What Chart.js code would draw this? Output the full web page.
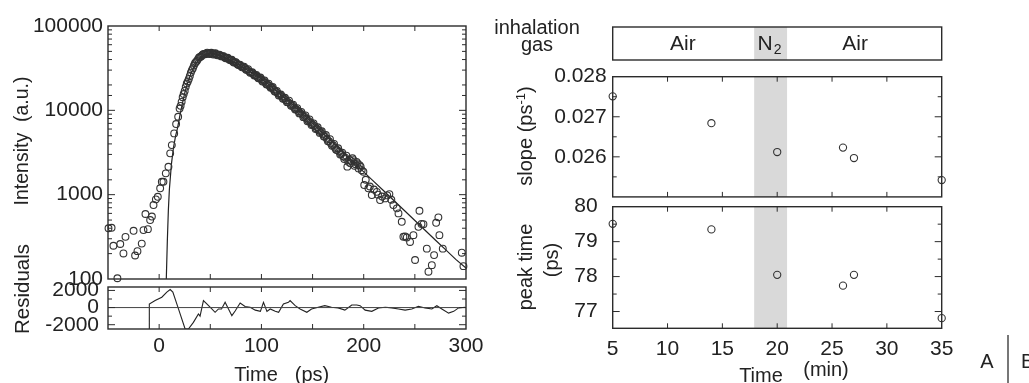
<!DOCTYPE html>
<html>
<head>
<meta charset="utf-8">
<script src="https://cdn.jsdelivr.net/npm/chart.js@4.4.1/dist/chart.umd.min.js"></script>
<style>
body{margin:0;background:#fff;width:1029px;height:383px;overflow:hidden;position:relative;font-family:"Liberation Sans",Arial,sans-serif;color:#222}
canvas{position:absolute}
.lbl{position:absolute;font-size:20px;white-space:nowrap;line-height:1}
.rot{transform:translate(-50%,-50%) rotate(-90deg)}
.c{transform:translate(-50%,-50%)}
sup{font-size:13px;vertical-align:7px;line-height:0}
</style>
</head>
<body>
<canvas id="intChart" width="480" height="292" style="left:0;top:0"></canvas>
<canvas id="resChart" width="490" height="108" style="left:0;top:275px"></canvas>
<canvas id="gasChart" width="480" height="62" style="left:480px;top:0"></canvas>
<canvas id="slopeChart" width="480" height="140" style="left:480px;top:62px"></canvas>
<canvas id="peakChart" width="480" height="193" style="left:480px;top:190px"></canvas>

<div class="lbl rot" style="left:22px;top:141px;font-size:19.5px">Intensity &nbsp;(a.u.)</div>
<div class="lbl rot" style="left:22px;top:289px;font-size:20.5px">Residuals</div>
<div class="lbl c" style="left:256px;top:374px">Time</div>
<div class="lbl c" style="left:312px;top:374px">(ps)</div>

<div class="lbl c" style="left:537px;top:27px">inhalation</div>
<div class="lbl c" style="left:537px;top:44px">gas</div>
<div class="lbl rot" style="left:525px;top:136px">slope (ps<sup>-1</sup>)</div>
<div class="lbl rot" style="left:525px;top:267px">peak time</div>
<div class="lbl rot" style="left:551px;top:260px">(ps)</div>
<div class="lbl c" style="left:761px;top:375px">Time</div>
<div class="lbl c" style="left:826px;top:369px">(min)</div>

<div class="lbl c" style="left:987px;top:361px">A</div>
<div style="position:absolute;left:1007px;top:335px;width:1.5px;height:48px;background:#777"></div>
<div class="lbl" style="left:1021px;top:351px">B</div>

<script>
// ---- panel A : time-resolved intensity ----
var decayTime = [-49.5,-46.5,-44.7,-40.8,-38,-34.9,-32.9,-25,-23.5,-21.2,-17,-15.3,-13.4,-11,-8.8,-7.1,-5.5,-3.2,-1.3,1,2.6,4.2,6.5,9.1,10.8,12.4,14.7,16.6,18.6,
    20,22,24,26,28,30,32,34,36,38,40,42,44,46,48,50,52,54,56,58,60,62,64,66,68,70,72,74,76,78,80,82,84,86,88,90,92,94,96,98,
    100,102,104,106,108,110,112,114,116,118,120,122,124,126,128,130,132,134,136,138,140,142,144,146,148,150,152,154,156,158,
    160,162,164,166,168,170,172,174,176,178,180,182,184,186,188,190,192,194,196,198,
    199.7,200.5,202,204.6,206,207.9,210,212.8,214,216,218,220.9,223,225.1,227,229,232.4,234,237.2,238.8,240.5,242.1,245.3,248.6,
    250.2,253.5,254.5,256.5,258.4,261.7,263.3,266.6,268.8,270.8,273,274,277.3,295.9,297.5];
var decayCounts = [400,405,248,102,260,201,316,373,190,214,263,380,590,390,500,550,753,880,944,1190,1420,1420,1790,2140,3090,3870,5330,6880,8390,
    10500,12600,15600,19000,22000,25500,30000,34000,37500,40500,43000,45000,46500,47200,47500,47600,47000,46800,46000,45500,
    44500,43800,42500,41800,40500,39500,38000,37200,35800,34500,33600,32800,31500,30200,29000,28000,27200,26000,25000,24200,
    23200,22300,21300,20200,19400,18600,17600,16700,15900,15100,14600,13800,13200,12500,12000,11400,10800,10300,9800,9300,
    8900,8400,8000,7500,7200,6800,6500,6100,5800,5500,
    5200,4900,4600,4300,4050,3850,3600,3380,3250,3050,2850,2750,2150,2600,2500,2570,2300,2350,2240,1950,
    1870,1300,1500,1190,1250,990,1150,1080,1000,863,950,903,980,1016,870,753,688,600,477,317,320,311,275,331,
    168,416,645,450,447,229,122,146,192,464,538,331,229,205,142];
// interleaved samples (odd ps) in the dense part of the curve
var decayTimeOdd = [21,23,25,27,29,31,33,35,37,39,41,43,45,47,49,51,53,55,57,59,61,63,65,67,69,71,73,75,77,79,81,83,85,87,89,91,93,95,97,99,
    101,103,105,107,109,111,113,115,117,119,121,123,125,127,129,131,133,135,137,139,141,143,145,147,149,151,153,155,157,159,
    161,163,165,167,169,171,173,175,177,179,181,183,185,187,189,191,193,195,197];
var decayCountsOdd = [11300,14300,17000,20800,23500,28000,31500,36200,38600,42300,43500,46200,46300,48400,46600,48200,46000,47500,44900,45800,
    43600,43900,41500,42000,39400,39800,36900,37300,34600,34800,32400,33000,30300,30800,27900,28300,25800,26200,24000,24500,
    22000,22600,20300,20700,18500,18900,16700,17000,15000,15400,13700,14100,12500,13000,11300,11700,10200,10600,9200,9600,
    8300,8700,7400,7800,6700,7000,6000,6300,5400,5650,
    4900,5100,4300,4550,3800,4000,3400,3550,3000,3150,2650,2900,2450,2350,2700,2200,2450,2050,2150];
var fitTime = [7,8,9,10,12,14,16,18,20,22,25,28,32,36,40,44,48,52,56,60,70,80,90,100,110,120,130,140,150,160,170,180,190,200,210,220,230,240,250,260,270,280,290,300];
var fitCounts = [100,280,650,1150,2300,3600,4900,6200,8300,11000,16000,21500,29000,36000,41500,45500,47200,47300,46000,44200,39000,33500,28300,23600,18900,15000,11900,9100,7000,5350,4130,3170,2430,1865,1430,1096,840,644,494,379,290,223,171,135];
var intensityLabels = [100,1000,10000,100000];

var residTime = [-9.8,-9.6,-3.9,2.6,7.5,10.8,13.4,18.9,25.4,28.6,33.5,38.4,40,43.3,46.6,51.5,54.7,58,61,64.5,67.8,71.1,74.3,79.2,84,89,94,99,102,105.4,108.6,113.5,116.8,121.5,126.4,128,133,137.8,144.4,149,155.5,162,168.5,175,181.6,188.3,193.2,196.5,201.4,207.9,214.4,221,227.5,234,240.5,247,253.5,260,266.6,271.5,276.4,283,288,292.7,299];
var residValue = [-2500,420,820,1210,1800,2100,1800,-160,-2500,-2500,-1730,-750,-1000,820,420,-160,-550,-160,-160,620,-160,-940,-400,540,120,40,-300,-440,620,-440,-160,-440,-550,420,620,820,220,-160,-550,-160,40,220,40,-40,-300,300,300,220,-300,-440,-40,40,-40,-160,-300,-160,150,-40,-160,220,-160,-650,-440,-40,40];
var residTicks = [-2000,-1000,0,1000,2000];
var residLabels = [-2000,0,2000];

// ---- panel B : repeated measurements ----
var sessionTime = [5,14,20,26,27,35];
var slopeValues = [0.02751,0.02684,0.02612,0.02623,0.02597,0.02542];
var peakValues = [79.51,79.35,78.05,77.74,78.05,76.81];
var slopeTicks = [0.025,0.0255,0.026,0.0265,0.027,0.0275,0.028];
var slopeLabels = [0.026,0.027,0.028];
var peakTicks = [77,77.5,78,78.5,79,79.5,80];
var peakLabels = [77,78,79,80];
var n2Start = 17.9, n2End = 20.9;
var gasLabels = ['Air','N2','Air'];
var gasLabelAt = [11.4,19.3,27.1];

var ink = '#2b2b2b';
var bandColor = '#d9d9d9';
var fontFamily = '"Liberation Sans", Arial, Helvetica, sans-serif';

Chart.defaults.font.family = fontFamily;
Chart.defaults.font.size = 21;
Chart.defaults.color = '#222';
Chart.defaults.animation = false;
Chart.defaults.plugins.legend.display = false;
Chart.defaults.plugins.tooltip.enabled = false;

function pairs(xs, ys) {
    var out = [];
    for (var i = 0; i < xs.length; i++) out.push({x: xs[i], y: ys[i]});
    return out;
}

function hasValue(list, v) {
    for (var i = 0; i < list.length; i++) if (Math.abs(list[i] - v) < 1e-9) return true;
    return false;
}

// axis with no grid, fixed size and no label overhang padding
function axis(extra, size) {
    var a = {
        grid: {display: false, drawTicks: false},
        border: {display: false},
        ticks: {autoSkip: false, maxRotation: 0},
        afterFit: function(s) {
            s.paddingTop = 0; s.paddingBottom = 0; s.paddingLeft = 0; s.paddingRight = 0;
            if (s.isHorizontal()) s.height = size; else s.width = size;
        }
    };
    for (var k in extra) {
        if (k == 'ticks') { for (var t in extra.ticks) a.ticks[t] = extra.ticks[t]; }
        else a[k] = extra[k];
    }
    return a;
}

// frame, inward tick marks on all four sides, and the N2 band
var boxTicks = {
    id: 'boxTicks',
    beforeDatasetsDraw: function(chart, args, opts) {
        if (!opts.band) return;
        var ctx = chart.ctx, a = chart.chartArea, x = chart.scales.x;
        var x1 = x.getPixelForValue(opts.band[0]), x2 = x.getPixelForValue(opts.band[1]);
        ctx.save();
        ctx.fillStyle = bandColor;
        ctx.fillRect(x1, a.top, x2 - x1, a.bottom - a.top);
        ctx.restore();
    },
    afterDatasetsDraw: function(chart, args, opts) {
        var ctx = chart.ctx, a = chart.chartArea, sx = chart.scales.x, sy = chart.scales.y;
        ctx.save();
        ctx.strokeStyle = ink;
        ctx.lineWidth = 1;
        ctx.beginPath();
        sx.ticks.forEach(function(t) {
            var px = sx.getPixelForValue(t.value);
            if (px < a.left + 1 || px > a.right - 1) return;
            ctx.moveTo(px, a.bottom); ctx.lineTo(px, a.bottom - 5);
            ctx.moveTo(px, a.top); ctx.lineTo(px, a.top + 5);
        });
        sy.ticks.forEach(function(t) {
            var py = sy.getPixelForValue(t.value);
            if (py < a.top + 1 || py > a.bottom - 1) return;
            var len = t.label !== '' && t.label != null ? 7 : 4;
            ctx.moveTo(a.left, py); ctx.lineTo(a.left + len, py);
            ctx.moveTo(a.right, py); ctx.lineTo(a.right - len, py);
        });
        ctx.stroke();
        ctx.lineWidth = 1.4;
        ctx.strokeRect(a.left, a.top, a.right - a.left, a.bottom - a.top);
        ctx.restore();
    }
};

var gasBox = {
    id: 'gasBox',
    afterDraw: function(chart) {
        var ctx = chart.ctx, a = chart.chartArea, x = chart.scales.x;
        var x1 = x.getPixelForValue(n2Start), x2 = x.getPixelForValue(n2End);
        var py = (a.top + a.bottom) / 2 + 1;
        ctx.save();
        ctx.fillStyle = bandColor;
        ctx.fillRect(x1, a.top, x2 - x1, a.bottom - a.top);
        ctx.strokeStyle = ink;
        ctx.lineWidth = 1.4;
        ctx.strokeRect(a.left, a.top, a.right - a.left, a.bottom - a.top);
        ctx.fillStyle = '#222';
        ctx.textBaseline = 'middle';
        for (var i = 0; i < gasLabels.length; i++) {
            var px = x.getPixelForValue(gasLabelAt[i]);
            if (gasLabels[i] == 'N2') {
                ctx.font = '21px ' + fontFamily;
                var wN = ctx.measureText('N').width;
                ctx.font = '14px ' + fontFamily;
                var w2 = ctx.measureText('2').width;
                var start = px - (wN + w2 + 1) / 2;
                ctx.textAlign = 'left';
                ctx.font = '21px ' + fontFamily;
                ctx.fillText('N', start, py);
                ctx.font = '14px ' + fontFamily;
                ctx.fillText('2', start + wN + 1, py + 6);
            } else {
                ctx.textAlign = 'center';
                ctx.font = '21px ' + fontFamily;
                ctx.fillText(gasLabels[i], px, py);
            }
        }
        ctx.restore();
    }
};

var circle = {
    pointRadius: 3.4,
    pointBorderWidth: 1.1,
    pointBorderColor: '#333',
    pointBackgroundColor: 'rgba(0,0,0,0)',
    clip: false
};

function pointSet(xs, ys, r) {
    var d = {data: pairs(xs, ys)};
    for (var k in circle) d[k] = circle[k];
    if (r) d.pointRadius = r;
    return d;
}

var intensityChart = new Chart(document.getElementById('intChart'), {
    type: 'scatter',
    data: {
        datasets: [
            pointSet(decayTime, decayCounts),
            pointSet(decayTimeOdd, decayCountsOdd),
            {data: pairs(fitTime, fitCounts), showLine: true, pointRadius: 0, borderColor: '#222', borderWidth: 1.2, tension: 0}
        ]
    },
    options: {
        responsive: false,
        layout: {padding: {top: 26, right: 14, left: 0, bottom: 0}},
        plugins: {boxTicks: {}},
        scales: {
            x: axis({type: 'linear', min: -50, max: 300, ticks: {display: false, stepSize: 50}}, 13),
            y: axis({type: 'logarithmic', min: 100, max: 100000,
                ticks: {padding: 5, callback: function(v) { return hasValue(intensityLabels, v) ? String(v) : ''; }}}, 108)
        }
    },
    plugins: [boxTicks]
});

var residualChart = new Chart(document.getElementById('resChart'), {
    type: 'scatter',
    data: {
        datasets: [
            {data: [{x: -50, y: 0}, {x: 300, y: 0}], showLine: true, pointRadius: 0, borderColor: '#444', borderWidth: 1},
            {data: pairs(residTime, residValue), showLine: true, pointRadius: 0, borderColor: '#222', borderWidth: 1.1, tension: 0}
        ]
    },
    options: {
        responsive: false,
        layout: {padding: {top: 12, right: 24, left: 0, bottom: 0}},
        plugins: {boxTicks: {}},
        scales: {
            x: axis({type: 'linear', min: -50, max: 300,
                ticks: {stepSize: 50, padding: 5, callback: function(v) { return v % 100 == 0 ? String(v) : ''; }}}, 54),
            y: axis({type: 'linear', min: -2500, max: 2400,
                afterBuildTicks: function(s) { s.ticks = residTicks.map(function(v) { return {value: v}; }); },
                ticks: {padding: 9, callback: function(v) { return hasValue(residLabels, v) ? String(v) : ''; }}}, 108)
        }
    },
    plugins: [boxTicks]
});

var gasChart = new Chart(document.getElementById('gasChart'), {
    type: 'scatter',
    data: {datasets: []},
    options: {
        responsive: false,
        layout: {padding: {top: 27, right: 18.3, left: 132.7, bottom: 2}},
        scales: {
            x: {type: 'linear', min: 5, max: 35, display: false},
            y: {type: 'linear', min: 0, max: 1, display: false}
        }
    },
    plugins: [gasBox]
});

var slopeChart = new Chart(document.getElementById('slopeChart'), {
    type: 'scatter',
    data: {datasets: [pointSet(sessionTime, slopeValues, 3.6)]},
    options: {
        responsive: false,
        layout: {padding: {top: 14.7, right: 18.3, left: 0, bottom: 0}},
        plugins: {boxTicks: {band: [n2Start, n2End]}},
        scales: {
            x: axis({type: 'linear', min: 5, max: 35, ticks: {display: false, stepSize: 5}}, 3),
            y: axis({type: 'linear', min: 0.025, max: 0.028,
                afterBuildTicks: function(s) { s.ticks = slopeTicks.map(function(v) { return {value: v}; }); },
                ticks: {padding: 6, callback: function(v) { return hasValue(slopeLabels, v) ? v.toFixed(3) : ''; }}}, 132.7)
        }
    },
    plugins: [boxTicks]
});

var peakChart = new Chart(document.getElementById('peakChart'), {
    type: 'scatter',
    data: {datasets: [pointSet(sessionTime, peakValues, 3.6)]},
    options: {
        responsive: false,
        layout: {padding: {top: 16.7, right: 18.3, left: 0, bottom: 0}},
        plugins: {boxTicks: {band: [n2Start, n2End]}},
        scales: {
            x: axis({type: 'linear', min: 5, max: 35, ticks: {stepSize: 5, padding: 8}}, 54.7),
            y: axis({type: 'linear', min: 76.52, max: 80,
                afterBuildTicks: function(s) { s.ticks = peakTicks.map(function(v) { return {value: v}; }); },
                ticks: {padding: 15, callback: function(v) { return hasValue(peakLabels, v) ? String(v) : ''; }}}, 132.7)
        }
    },
    plugins: [boxTicks]
});
</script>
</body>
</html>
